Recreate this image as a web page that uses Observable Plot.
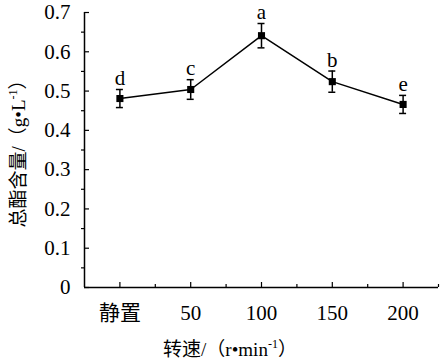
<!DOCTYPE html>
<html>
<head>
<meta charset="utf-8">
<script src="https://cdn.jsdelivr.net/npm/d3@7"></script>
<script src="https://cdn.jsdelivr.net/npm/@observablehq/plot@0.6"></script>
<style>
  html, body { margin: 0; padding: 0; background: #fff; }
  svg { display: block; }
</style>
</head>
<body>
<div id="chart"></div>
<script>
const categories = ["静置", "50", "100", "150", "200"];
const values = [0.481, 0.504, 0.641, 0.524, 0.466];
const errors = [0.023, 0.025, 0.031, 0.027, 0.023];
const letters = ["d", "c", "a", "b", "e"];
const yTicks = [0, 0.1, 0.2, 0.3, 0.4, 0.5, 0.6, 0.7];
const yMinor = [0.05, 0.15, 0.25, 0.35, 0.45, 0.55, 0.65];
const xPos = [1, 2, 3, 4, 5];
const xMinor = [1.5, 2.5, 3.5, 4.5, 5.5];

const data = categories.map((c, k) => ({
  x: xPos[k], c, v: values[k], lo: values[k] - errors[k], hi: values[k] + errors[k], letter: letters[k]
}));

const FONT = '"Liberation Serif", "Times New Roman", "Noto Sans CJK SC", serif';

const chart = Plot.plot({
  width: 440,
  height: 363,
  marginLeft: 84,
  marginRight: 2,
  marginTop: 12,
  marginBottom: 76,
  style: { fontFamily: FONT, fontSize: "21px", color: "#000", background: "#fff" },
  x: { type: "linear", domain: [0.5, 5.5] },
  y: { domain: [0, 0.7] },
  marks: [
    Plot.axisY(yTicks, { tickSize: 0, tickPadding: 14, fontSize: 21, label: null,
      tickFormat: d => d === 0 ? "0" : d.toFixed(1) }),
    Plot.axisX(xPos, { tickSize: 0, tickPadding: 18, fontSize: 21, label: null,
      tickFormat: i => categories[i - 1] }),
    // axis lines
    Plot.ruleX([0.5], { y1: 0, y2: 0.7, stroke: "#000", strokeWidth: 1.5 }),
    Plot.ruleY([0], { x1: 0.5, x2: 5.5, stroke: "#000", strokeWidth: 1.5 }),
    // y ticks: major inward, minor outward
    Plot.ruleY(yTicks, { y: d => d, x1: 0.5, x2: 0.5, insetRight: -5, stroke: "#000", strokeWidth: 1.2 }),
    Plot.ruleY(yMinor, { y: d => d, x1: 0.5, x2: 0.5, insetLeft: -3, stroke: "#000", strokeWidth: 1.2 }),
    // x ticks
    Plot.ruleX(xPos, { x: d => d, y1: 0, y2: 0, insetTop: -5, stroke: "#000", strokeWidth: 1.2 }),
    Plot.ruleX(xMinor, { x: d => d, y1: 0, y2: 0, insetTop: -3, stroke: "#000", strokeWidth: 1.2 }),
    // error bars
    Plot.ruleX(data, { x: "x", y1: "lo", y2: "hi", stroke: "#000", strokeWidth: 1.5 }),
    Plot.ruleY(data, { y: "hi", x1: "x", x2: "x", insetLeft: -3.5, insetRight: -3.5, stroke: "#000", strokeWidth: 1.5 }),
    Plot.ruleY(data, { y: "lo", x1: "x", x2: "x", insetLeft: -3.5, insetRight: -3.5, stroke: "#000", strokeWidth: 1.5 }),
    // line & markers
    Plot.line(data, { x: "x", y: "v", stroke: "#000", strokeWidth: 1.5 }),
    Plot.dot(data, { x: "x", y: "v", symbol: "square", r: 4, fill: "#000", stroke: "none" }),
    // significance letters
    Plot.text(data, { x: "x", y: "hi", text: "letter", dy: -11, fontSize: 21, fill: "#000" })
  ]
});

const svg = d3.select(chart);
// x axis title
const xt = svg.append("text")
  .attr("x", 230).attr("y", 356)
  .attr("text-anchor", "middle")
  .attr("font-family", FONT).attr("font-size", 19).attr("fill", "#000");
xt.append("tspan").text("转速/（r•min");
xt.append("tspan").attr("font-size", 12).attr("dy", -8).text("-1");
xt.append("tspan").attr("dy", 8).text("）");

// y axis title
const yt = svg.append("text")
  .attr("transform", "translate(25,149) rotate(-90)")
  .attr("text-anchor", "middle")
  .attr("font-family", FONT).attr("font-size", 19).attr("fill", "#000");
yt.append("tspan").text("总酯含量/（g•L");
yt.append("tspan").attr("font-size", 12).attr("dy", -8).text("-1");
yt.append("tspan").attr("dy", 8).text("）");

document.getElementById("chart").appendChild(chart);
</script>
</body>
</html>
